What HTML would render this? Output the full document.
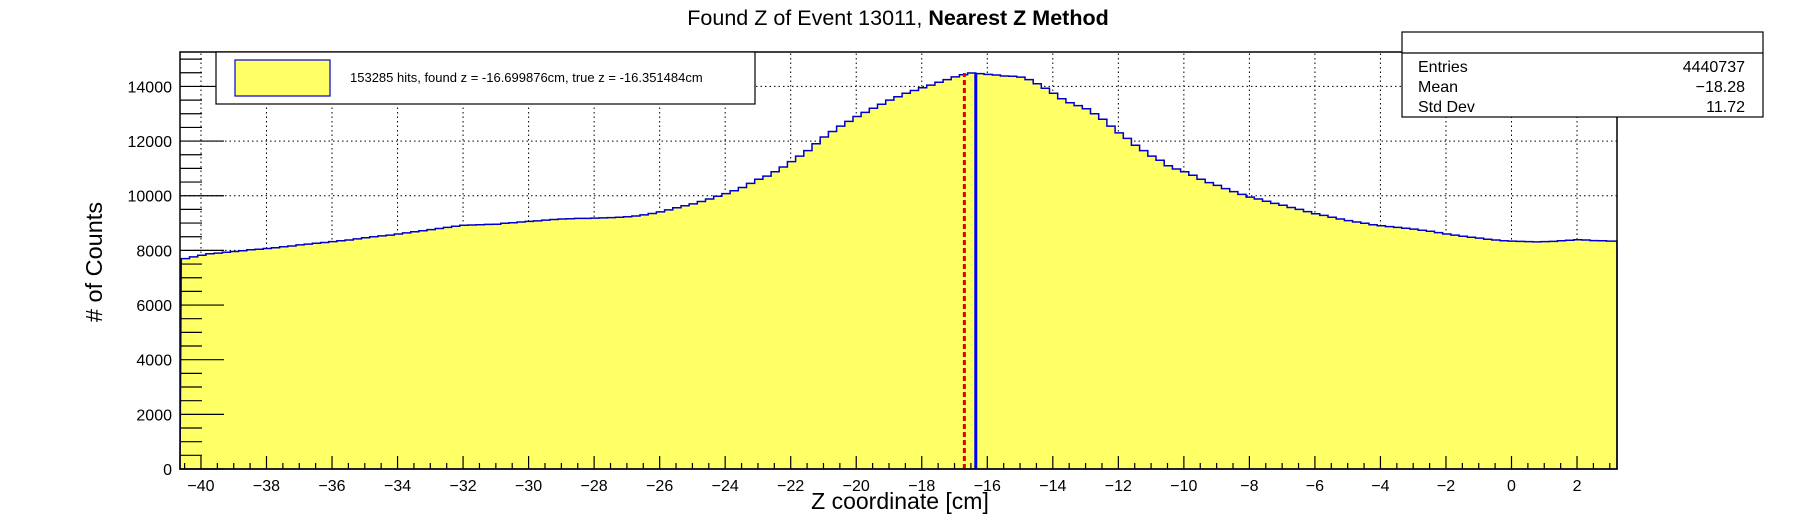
<!DOCTYPE html>
<html><head><meta charset="utf-8"><style>
html,body{margin:0;padding:0;background:#fff;}
svg{display:block;font-family:"Liberation Sans",sans-serif;}
</style></head><body>
<svg id="c" width="1796" height="522" viewBox="0 0 1796 522" xmlns="http://www.w3.org/2000/svg">
<text x="898" y="25" font-size="21.5" text-anchor="middle">Found Z of Event 13011,   <tspan font-weight="bold">Nearest Z Method</tspan></text>
<g id="grid"></g>
<g id="hist"></g>
<g id="marks"></g>
<g id="axes"></g>
<rect x="180" y="52" width="1437" height="417" fill="none" stroke="#000" stroke-width="1.5"/>
<g>
<rect x="216" y="52" width="539" height="52" fill="#fff" stroke="#000" stroke-width="1.2"/>
<rect x="235" y="60" width="95" height="36" fill="#ffff66" stroke="#0000cc" stroke-width="1.2"/>
<text x="350" y="82" font-size="13">153285 hits, found z = -16.699876cm, true z = -16.351484cm</text>
</g>
<g>
<rect x="1402" y="32" width="361" height="85" fill="#fff" stroke="#000" stroke-width="1.2"/>
<line x1="1402" y1="53" x2="1763" y2="53" stroke="#000" stroke-width="1.2"/>
<text x="1418" y="72" font-size="16">Entries</text>
<text x="1745" y="72" font-size="16" text-anchor="end">4440737</text>
<text x="1418" y="92" font-size="16">Mean</text>
<text x="1745" y="92" font-size="16" text-anchor="end">−18.28</text>
<text x="1418" y="112" font-size="16">Std Dev</text>
<text x="1745" y="112" font-size="16" text-anchor="end">11.72</text>
</g>
<text x="900" y="509" font-size="23" text-anchor="middle">Z coordinate [cm]</text>
<text transform="translate(102,262) rotate(-90)" font-size="23.5" text-anchor="middle"># of Counts</text>
</svg>
<script>
const binStart = -40.6;
const binWidth = 0.25;
const counts = [
7700,7760,7820,7880, 7900,7930,7960,7990, 8020,8040,8070,8100, 8130,8160,8200,8230,
8260,8290,8320,8350, 8380,8420,8460,8500, 8530,8560,8600,8640, 8680,8720,8760,8800,
8840,8880,8920,8930, 8940,8950,8960,8990, 9010,9040,9060,9080, 9110,9130,9150,9160,
9170,9170,9180,9190, 9200,9210,9230,9260, 9300,9350,9410,9480, 9560,9630,9700,9790,
9880,9980,10080,10180, 10300,10450,10600,10720, 10880,11050,11250,11450, 11650,11900,12150,12350,
12550,12720,12900,13050, 13200,13350,13500,13620, 13750,13850,13950,14050, 14150,14250,14350,14430,
14490,14470,14440,14420, 14380,14370,14340,14250, 14100,13930,13750,13550, 13400,13300,13180,13000,
12800,12550,12300,12100, 11850,11650,11450,11300, 11100,10980,10880,10750, 10600,10480,10380,10260,
10150,10050,9950,9880, 9800,9720,9650,9570, 9500,9420,9340,9280, 9210,9150,9090,9040,
8990,8940,8900,8870, 8840,8810,8780,8740, 8700,8650,8600,8560, 8520,8480,8450,8410,
8380,8350,8340,8330, 8320,8310,8320,8330, 8350,8370,8390,8380, 8360,8350,8340,8340];
const lastEdgeCount = 4200;
const xTicks = [-40,-38,-36,-34,-32,-30,-28,-26,-24,-22,-20,-18,-16,-14,-12,-10,-8,-6,-4,-2,0,2];
const yTicks = [0,2000,4000,6000,8000,10000,12000,14000];
const foundZ = -16.699876;
const trueZ = -16.351484;
const markerHeight = 14490;

const X0=180,X1=1617,Y0=469,Y1=52;
const xMin=-40.64,xMax=3.22,yMax=15260;
const sx=v=>X0+(v-xMin)/(xMax-xMin)*(X1-X0);
const sy=v=>Y0-v/yMax*(Y0-Y1);
const NS='http://www.w3.org/2000/svg';
function mk(tag,attrs,parent){const e=document.createElementNS(NS,tag);for(const k in attrs)e.setAttribute(k,attrs[k]);parent.appendChild(e);return e;}
const grid=document.getElementById('grid'),axes=document.getElementById('axes'),hist=document.getElementById('hist'),marks=document.getElementById('marks');

xTicks.forEach(t=>{
 const l=mk('line',{x1:sx(t),x2:sx(t),y1:Y0,y2:Y1,stroke:'#000','stroke-width':1,'stroke-dasharray':'1.5,3'},grid);
 
 
});
yTicks.forEach(t=>{
 if(t===0)return;
 const l=mk('line',{x1:X0,x2:X1,y1:sy(t),y2:sy(t),stroke:'#000','stroke-width':1,'stroke-dasharray':'1.5,3'},grid);
 
 
});

let d='M'+X0+','+Y0;
counts.forEach((c,i)=>{
 let a=Math.max(binStart+i*binWidth,xMin), b=Math.min(binStart+(i+1)*binWidth,xMax);
 if(b<=a)return;
 d+=' L'+sx(a).toFixed(1)+','+sy(c).toFixed(1)+' L'+sx(b).toFixed(1)+','+sy(c).toFixed(1);
});
d+=' L'+sx(xMax).toFixed(1)+','+sy(lastEdgeCount).toFixed(1)+' L'+X1+','+Y0+' Z';
const hp=mk('path',{d:d,fill:'#ffff66',stroke:'#0000cc','stroke-width':1.5},hist);



const rl=mk('line',{x1:sx(foundZ),x2:sx(foundZ),y1:Y0,y2:sy(markerHeight),stroke:'#e00000','stroke-width':3,'stroke-dasharray':'5,3'},marks);


const bl=mk('line',{x1:sx(trueZ),x2:sx(trueZ),y1:Y0,y2:sy(markerHeight),stroke:'#0000ff','stroke-width':3},marks);



for(let v=-40.5;v<=xMax;v+=0.5){
 const major=Math.abs(v/2-Math.round(v/2))<1e-6;
 if(v<xMin)continue;
 const t=mk('line',{x1:sx(v),x2:sx(v),y1:Y0,y2:Y0-(major?13:6),stroke:'#000','stroke-width':1.2},axes);
 
 
}
xTicks.forEach(t=>{
 const tx=mk('text',{x:sx(t),y:491,'font-size':16,'text-anchor':'middle'},axes);
 tx.textContent=(t<0?'\u2212'+(-t):String(t));
 
 
});
for(let v=0;v<=yMax;v+=500){
 const major=v%2000===0;
 const t=mk('line',{x1:X0,x2:X0+(major?44:22),y1:sy(v),y2:sy(v),stroke:'#000','stroke-width':1.2},axes);
 
 
}
yTicks.forEach(t=>{
 const tx=mk('text',{x:172,y:sy(t)+6,'font-size':16,'text-anchor':'end'},axes);
 tx.textContent=String(t);
 
 
});
</script>
</body></html>
